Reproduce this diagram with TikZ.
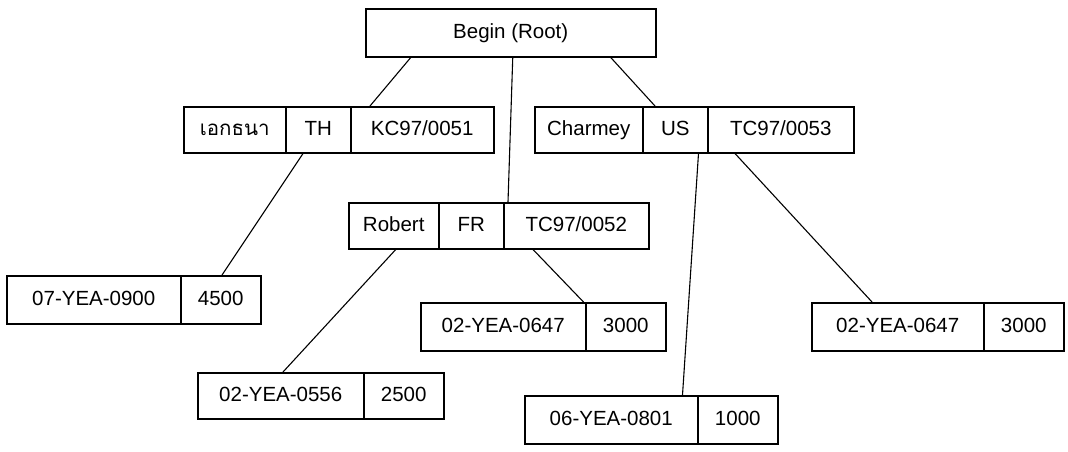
\documentclass[tikz,border=0pt]{standalone}
\usepackage{fontspec}
\setmainfont{Liberation Sans}
\newfontfamily\thaifont[Script=Thai]{Loma}
\usetikzlibrary{positioning}
\begin{document}
\begin{tikzpicture}[x=1pt,y=-1pt,
  cell/.style={draw,line width=1.5pt,inner sep=0pt,anchor=north west,
    minimum height=47pt,text height=15pt,text depth=4pt,
    font=\fontsize{20.5}{24}\selectfont},
  link/.style={line width=1.1pt}]
\useasboundingbox (0,0) rectangle (1068,451);
% root
\node[cell,minimum width=290pt,minimum height=48pt] (root) at (365,8) {Begin (Root)};
% TH record
\node[cell,minimum width=102pt,minimum height=46pt] (tha) at (183,106) {\thaifont เอกธนา};
\node[cell,minimum width=65pt,minimum height=46pt] (thb) at (285,106) {TH};
\node[cell,minimum width=143pt,minimum height=46pt] (thc) at (350,106) {KC97/0051};
% US record
\node[cell,minimum width=108pt,minimum height=46pt] (usa) at (534,106) {Charmey};
\node[cell,minimum width=65pt,minimum height=46pt] (usb) at (642,106) {US};
\node[cell,minimum width=146pt,minimum height=46pt] (usc) at (707,106) {TC97/0053};
% FR record
\node[cell,minimum width=90pt,minimum height=46pt] (fra) at (348,202) {Robert};
\node[cell,minimum width=65pt,minimum height=46pt] (frb) at (438,202) {FR};
\node[cell,minimum width=145pt,minimum height=46pt] (frc) at (503,202) {TC97/0052};
% leaves
\node[cell,minimum width=174pt,minimum height=48pt] (la) at (6,275) {07-YEA-0900};
\node[cell,minimum width=80pt,minimum height=48pt] (lb) at (180,275) {4500};
\node[cell,minimum width=166pt,minimum height=46pt] (ma) at (197,372) {02-YEA-0556};
\node[cell,minimum width=80pt,minimum height=46pt] (mb) at (363,372) {2500};
\node[cell,minimum width=165pt,minimum height=48pt] (na) at (420,302) {02-YEA-0647};
\node[cell,minimum width=80pt,minimum height=48pt] (nb) at (585,302) {3000};
\node[cell,minimum width=173pt,minimum height=48pt] (sa) at (524,395) {06-YEA-0801};
\node[cell,minimum width=80pt,minimum height=48pt] (sb) at (697,395) {1000};
\node[cell,minimum width=172pt,minimum height=48pt] (ra) at (811,302) {02-YEA-0647};
\node[cell,minimum width=80pt,minimum height=48pt] (rb) at (983,302) {3000};
% connectors
\draw[link] ([xshift=-100pt]root.south) -- ([xshift=20pt]thc.north west);
\draw[link] ([xshift=2pt]root.south) -- ([xshift=5pt]frc.north west);
\draw[link] ([xshift=100pt]root.south) -- ([xshift=13pt]usb.north west);
\draw[link] ([xshift=18pt]thb.south west) -- ([xshift=42pt]lb.north west);
\draw[link] ([xshift=2pt]fra.south) -- ([xshift=86pt]ma.north west);
\draw[link] ([xshift=30pt]frc.south west) -- ([xshift=-3pt]na.north east);
\draw[link] ([xshift=-10pt]usb.south east) -- ([xshift=-16pt]sa.north east);
\draw[link] ([xshift=28pt]usc.south west) -- ([xshift=61pt]ra.north west);
\end{tikzpicture}
\end{document}
